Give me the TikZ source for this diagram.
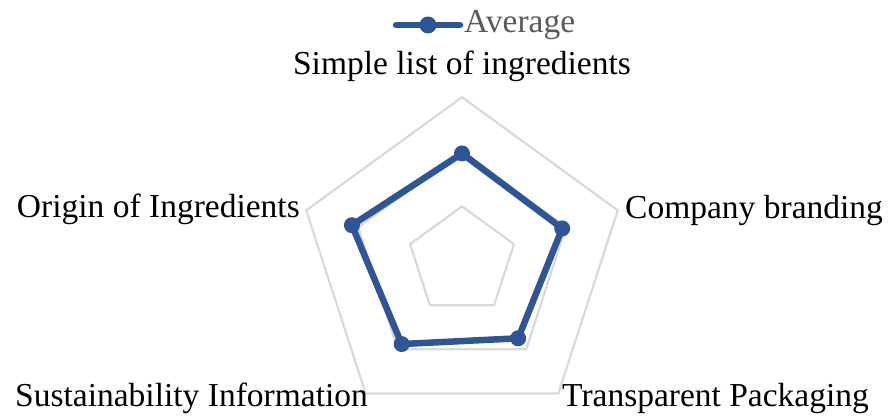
\documentclass[tikz,border=0pt]{standalone}
\usepackage{fontspec}
\setmainfont{Liberation Serif}
\usetikzlibrary{calc}
\definecolor{gridgray}{HTML}{D9D9D9}
\definecolor{serblue}{HTML}{2F5597}
\definecolor{legtext}{HTML}{595959}
\tikzset{
  gridline/.style={draw=gridgray, line width=2.2pt, line join=miter},
  dataline/.style={draw=serblue, line width=6.5pt, line join=round},
  datadot/.style={circle, fill=serblue, inner sep=0pt, minimum size=16pt},
  axlabel/.style={font=\fontsize{33.5}{38}\selectfont, inner sep=0pt, text=black},
  leglabel/.style={font=\fontsize{33.5}{38}\selectfont, inner sep=0pt, text=legtext},
}
\begin{document}
\begin{tikzpicture}[x=1pt,y=-1pt]
\useasboundingbox (0,0) rectangle (889,417);
\coordinate (c) at (462,261);
\def\u{54.6}
% grid pentagons
\foreach \k in {1,2,3}{
  \draw[gridline] ($(c)+(-90:\k*\u)$) -- ($(c)+(-18:\k*\u)$) -- ($(c)+(54:\k*\u)$)
     -- ($(c)+(126:\k*\u)$) -- ($(c)+(198:\k*\u)$) -- cycle;
}
% data
\coordinate (p1) at ($(c)+(-90:1.97*\u)$);
\coordinate (p2) at ($(c)+(-18:1.93*\u)$);
\coordinate (p3) at ($(c)+(54:1.75*\u)$);
\coordinate (p4) at ($(c)+(126:1.88*\u)$);
\coordinate (p5) at ($(c)+(198:2.12*\u)$);
\draw[dataline] (p1) -- (p2) -- (p3) -- (p4) -- (p5) -- cycle;
\foreach \p in {p1,p2,p3,p4,p5}{ \node[datadot] at (\p) {}; }
% axis labels
\node[axlabel, anchor=base] (l1) at (462,75) {Simple list of ingredients};
\node[axlabel, anchor=base west] (l2) at (625,218) {Company branding};
\node[axlabel, anchor=base west] (l3) at (562,406) {Transparent Packaging};
\node[axlabel, anchor=base west] (l4) at (15,406) {Sustainability Information};
\node[axlabel, anchor=base east] (l5) at (300,217) {Origin of Ingredients};
% legend
\coordinate (la) at (396,25);
\coordinate (lb) at (460,25);
\draw[dataline, line cap=round] (la) -- (lb);
\node[datadot, minimum size=17pt] (lm) at (428,25) {};
\node[leglabel, anchor=base west] (lt) at (464,33) {Average};
\end{tikzpicture}
\end{document}
